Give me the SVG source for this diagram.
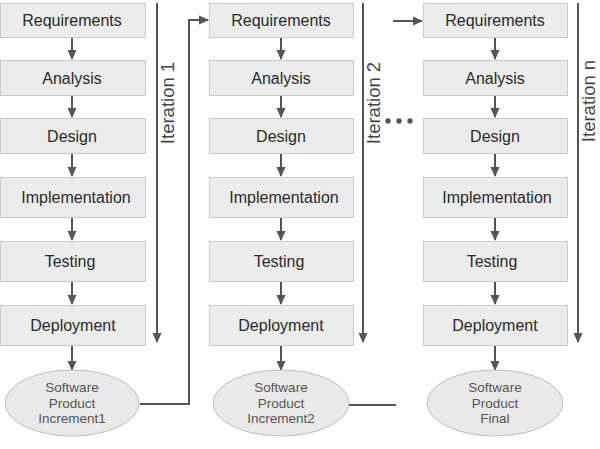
<svg xmlns="http://www.w3.org/2000/svg" width="600" height="449" viewBox="0 0 600 449">
<defs>
<marker id="ah" markerWidth="10" markerHeight="10" refX="9" refY="5" orient="auto" markerUnits="userSpaceOnUse">
<path d="M0,0.5 L10,5 L0,9.5 Z" fill="#555"/>
</marker>
<style>
.box{fill:#ececec;stroke:#c9c9c9;stroke-width:1}
.ell{fill:#e9e9e9;stroke:#bdbdbd;stroke-width:1}
.t{font-family:"Liberation Sans",Arial,sans-serif;font-size:16px;fill:#2a2a2a;text-anchor:middle}
.et{font-family:"Liberation Sans",Arial,sans-serif;font-size:13.5px;fill:#555;text-anchor:middle}
.it{font-family:"Liberation Sans",Arial,sans-serif;font-size:18.5px;fill:#444;text-anchor:middle}
.c{stroke:#555;stroke-width:2;fill:none}
</style>
</defs>
<rect width="600" height="449" fill="#fff"/>

<g id="connectors">
<line class="c" x1="72" y1="37" x2="72" y2="59" marker-end="url(#ah)"/>
<line class="c" x1="72" y1="95" x2="72" y2="117" marker-end="url(#ah)"/>
<line class="c" x1="72" y1="153" x2="72" y2="176" marker-end="url(#ah)"/>
<line class="c" x1="72" y1="217" x2="72" y2="240" marker-end="url(#ah)"/>
<line class="c" x1="72" y1="281" x2="72" y2="304" marker-end="url(#ah)"/>
<line class="c" x1="72" y1="345" x2="72" y2="370" marker-end="url(#ah)"/>
<line class="c" x1="281" y1="37" x2="281" y2="59" marker-end="url(#ah)"/>
<line class="c" x1="281" y1="95" x2="281" y2="117" marker-end="url(#ah)"/>
<line class="c" x1="281" y1="153" x2="281" y2="176" marker-end="url(#ah)"/>
<line class="c" x1="281" y1="217" x2="281" y2="240" marker-end="url(#ah)"/>
<line class="c" x1="281" y1="281" x2="281" y2="304" marker-end="url(#ah)"/>
<line class="c" x1="281" y1="345" x2="281" y2="370" marker-end="url(#ah)"/>
<line class="c" x1="495" y1="37" x2="495" y2="59" marker-end="url(#ah)"/>
<line class="c" x1="495" y1="95" x2="495" y2="117" marker-end="url(#ah)"/>
<line class="c" x1="495" y1="153" x2="495" y2="176" marker-end="url(#ah)"/>
<line class="c" x1="495" y1="217" x2="495" y2="240" marker-end="url(#ah)"/>
<line class="c" x1="495" y1="281" x2="495" y2="304" marker-end="url(#ah)"/>
<line class="c" x1="495" y1="345" x2="495" y2="370" marker-end="url(#ah)"/>
<line class="c" x1="157" y1="3" x2="157" y2="342" marker-end="url(#ah)"/>
<line class="c" x1="363" y1="3" x2="363" y2="342" marker-end="url(#ah)"/>
<line class="c" x1="578" y1="3" x2="578" y2="342" marker-end="url(#ah)"/>
<polyline class="c" points="140,404 189,404 189,20 208,20" marker-end="url(#ah)"/>
<line class="c" x1="349" y1="405" x2="396" y2="405"/>
<line class="c" x1="393" y1="21" x2="422" y2="21" marker-end="url(#ah)"/>
</g>

<g id="dots" fill="#555">
<circle cx="388" cy="121" r="2.7"/>
<circle cx="399" cy="121" r="2.7"/>
<circle cx="410" cy="121" r="2.7"/>
</g>

<g id="iter1"><text class="it" transform="translate(174,103) rotate(-90)">Iteration 1</text></g>
<g id="iter2"><text class="it" transform="translate(380,103) rotate(-90)">Iteration 2</text></g>
<g id="itern"><text class="it" transform="translate(595,101) rotate(-90)">Iteration n</text></g>

<g id="c1-req"><rect class="box" x="0.5" y="3.5" width="145" height="34"/><text class="t" x="72" y="26">Requirements</text></g>
<g id="c1-ana"><rect class="box" x="0.5" y="60.5" width="145" height="35"/><text class="t" x="72" y="84">Analysis</text></g>
<g id="c1-des"><rect class="box" x="0.5" y="118.5" width="145" height="35"/><text class="t" x="72" y="142">Design</text></g>
<g id="c1-imp"><rect class="box" x="0.5" y="177.5" width="145" height="40"/><text class="t" x="76" y="203">Implementation</text></g>
<g id="c1-tes"><rect class="box" x="0.5" y="241.5" width="145" height="40"/><text class="t" x="70" y="267">Testing</text></g>
<g id="c1-dep"><rect class="box" x="0.5" y="305.5" width="145" height="40"/><text class="t" x="73" y="331">Deployment</text></g>
<g id="c1-prod"><ellipse class="ell" cx="72" cy="403" rx="67" ry="33"/>
<text class="et" x="72" y="392">Software</text><text class="et" x="72" y="408">Product</text><text class="et" x="72" y="423">Increment1</text></g>

<g id="c2-req"><rect class="box" x="209.5" y="3.5" width="144" height="34"/><text class="t" x="281" y="26">Requirements</text></g>
<g id="c2-ana"><rect class="box" x="209.5" y="60.5" width="144" height="35"/><text class="t" x="281" y="84">Analysis</text></g>
<g id="c2-des"><rect class="box" x="209.5" y="118.5" width="144" height="35"/><text class="t" x="281" y="142">Design</text></g>
<g id="c2-imp"><rect class="box" x="209.5" y="177.5" width="144" height="40"/><text class="t" x="284" y="203">Implementation</text></g>
<g id="c2-tes"><rect class="box" x="209.5" y="241.5" width="144" height="40"/><text class="t" x="279" y="267">Testing</text></g>
<g id="c2-dep"><rect class="box" x="209.5" y="305.5" width="144" height="40"/><text class="t" x="281" y="331">Deployment</text></g>
<g id="c2-prod"><ellipse class="ell" cx="281" cy="403" rx="68" ry="33"/>
<text class="et" x="281" y="392">Software</text><text class="et" x="281" y="408">Product</text><text class="et" x="281" y="423">Increment2</text></g>

<g id="c3-req"><rect class="box" x="423.5" y="3.5" width="144" height="34"/><text class="t" x="495" y="26">Requirements</text></g>
<g id="c3-ana"><rect class="box" x="423.5" y="60.5" width="144" height="35"/><text class="t" x="495" y="84">Analysis</text></g>
<g id="c3-des"><rect class="box" x="423.5" y="118.5" width="144" height="35"/><text class="t" x="495" y="142">Design</text></g>
<g id="c3-imp"><rect class="box" x="423.5" y="177.5" width="144" height="40"/><text class="t" x="497" y="203">Implementation</text></g>
<g id="c3-tes"><rect class="box" x="423.5" y="241.5" width="144" height="40"/><text class="t" x="492" y="267">Testing</text></g>
<g id="c3-dep"><rect class="box" x="423.5" y="305.5" width="144" height="40"/><text class="t" x="495" y="331">Deployment</text></g>
<g id="c3-prod"><ellipse class="ell" cx="495" cy="403" rx="68" ry="33"/>
<text class="et" x="495" y="392">Software</text><text class="et" x="495" y="408">Product</text><text class="et" x="495" y="423">Final</text></g>
</svg>
